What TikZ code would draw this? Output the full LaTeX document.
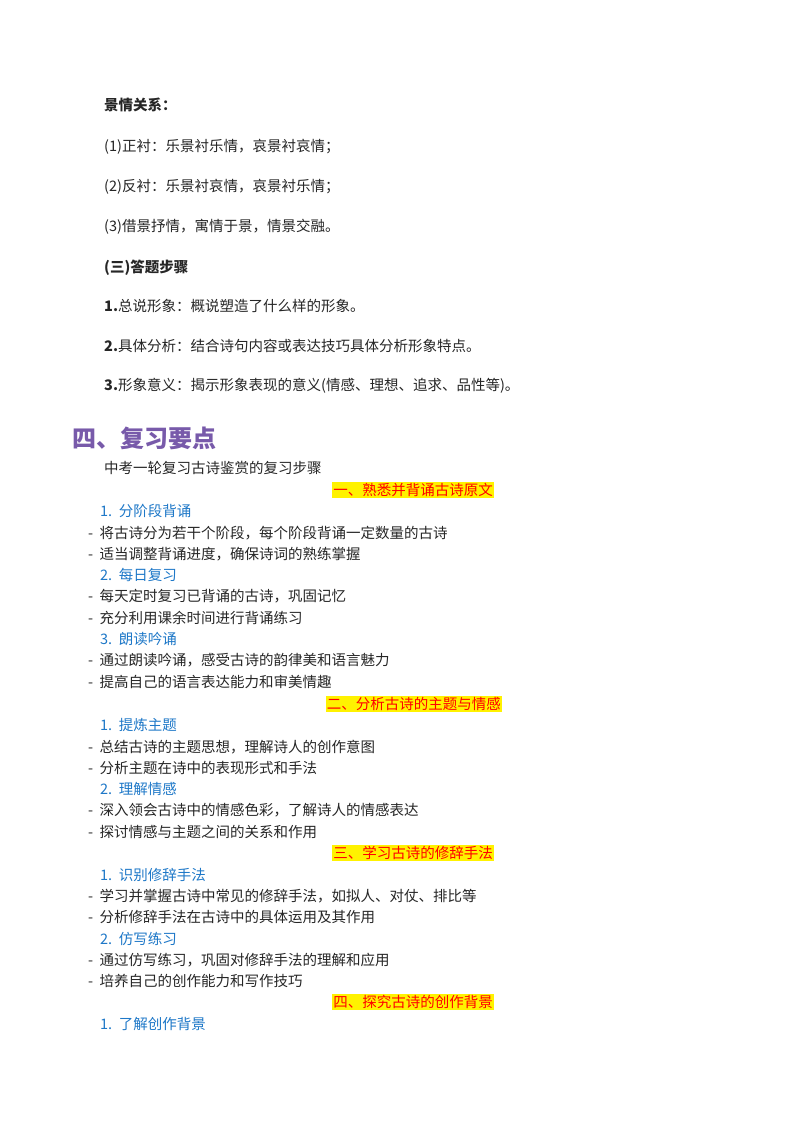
\documentclass[tikz,border=0pt]{standalone}
\usepackage{fontspec}
\setmainfont{Noto Sans CJK SC}
\newfontfamily\cjk{Noto Sans CJK SC}
\begin{document}
\begin{tikzpicture}[x=1pt,y=-1pt,
  txt/.style={anchor=west,inner sep=0pt,font=\fontsize{14.5}{16}\selectfont\cjk,text=black!85},
  blu/.style={txt,text={rgb,255:red,30;green,120;blue,200}},
  hl/.style={anchor=east,inner sep=1pt,fill=yellow,text=red,font=\fontsize{14.5}{16}\selectfont\cjk},
  ttl/.style={anchor=west,inner sep=0pt,font=\fontsize{24}{28}\selectfont\cjk\bfseries,text={rgb,255:red,120;green,90;blue,170}}]
\useasboundingbox[fill=white] (0,0) rectangle (800,1132);
\node[txt,font=\fontsize{14.5}{16}\selectfont\cjk\bfseries] (a1) at (104,105) {景情关系：};
\node[txt] (a2) at (104,147) {(1)正衬：乐景衬乐情，哀景衬哀情；};
\node[txt] (a3) at (104,187) {(2)反衬：乐景衬哀情，哀景衬乐情；};
\node[txt] (a4) at (104,227) {(3)借景抒情，寓情于景，情景交融。};
\node[txt,font=\fontsize{14.5}{16}\selectfont\cjk\bfseries] (a5) at (104,268) {(三)答题步骤};
\node[txt] (a6) at (104,306) {\textbf{1.}总说形象：概说塑造了什么样的形象。};
\node[txt] (a7) at (104,346) {\textbf{2.}具体分析：结合诗句内容或表达技巧具体分析形象特点。};
\node[txt] (a8) at (104,386) {\textbf{3.}形象意义：揭示形象表现的意义(情感、理想、追求、品性等)。};
\node[ttl] (t) at (72,438) {四、复习要点};
\node[txt] (b0) at (104,468) {中考一轮复习古诗鉴赏的复习步骤};
\node[hl] (h1) at (494,490) {一、熟悉并背诵古诗原文};
\node[blu] (c1) at (100,511) {1.\ \ 分阶段背诵};
\node[txt] (d1) at (88,533) {-\ \ 将古诗分为若干个阶段，每个阶段背诵一定数量的古诗};
\node[txt] (d2) at (88,554) {-\ \ 适当调整背诵进度，确保诗词的熟练掌握};
\node[blu] (c2) at (100,575) {2.\ \ 每日复习};
\node[txt] (d3) at (88,596) {-\ \ 每天定时复习已背诵的古诗，巩固记忆};
\node[txt] (d4) at (88,618) {-\ \ 充分利用课余时间进行背诵练习};
\node[blu] (c3) at (100,639) {3.\ \ 朗读吟诵};
\node[txt] (d5) at (88,660) {-\ \ 通过朗读吟诵，感受古诗的韵律美和语言魅力};
\node[txt] (d6) at (88,682) {-\ \ 提高自己的语言表达能力和审美情趣};
\node[hl] (h2) at (502,704) {二、分析古诗的主题与情感};
\node[blu] (c4) at (100,725) {1.\ \ 提炼主题};
\node[txt] (d7) at (88,747) {-\ \ 总结古诗的主题思想，理解诗人的创作意图};
\node[txt] (d8) at (88,768) {-\ \ 分析主题在诗中的表现形式和手法};
\node[blu] (c5) at (100,789) {2.\ \ 理解情感};
\node[txt] (d9) at (88,810) {-\ \ 深入领会古诗中的情感色彩，了解诗人的情感表达};
\node[txt] (d10) at (88,832) {-\ \ 探讨情感与主题之间的关系和作用};
\node[hl] (h3) at (494,853) {三、学习古诗的修辞手法};
\node[blu] (c6) at (100,875) {1.\ \ 识别修辞手法};
\node[txt] (d11) at (88,896) {-\ \ 学习并掌握古诗中常见的修辞手法，如拟人、对仗、排比等};
\node[txt] (d12) at (88,917) {-\ \ 分析修辞手法在古诗中的具体运用及其作用};
\node[blu] (c7) at (100,939) {2.\ \ 仿写练习};
\node[txt] (d13) at (88,960) {-\ \ 通过仿写练习，巩固对修辞手法的理解和应用};
\node[txt] (d14) at (88,981) {-\ \ 培养自己的创作能力和写作技巧};
\node[hl] (h4) at (494,1002) {四、探究古诗的创作背景};
\node[blu] (c8) at (100,1024) {1.\ \ 了解创作背景};
\end{tikzpicture}
\end{document}
